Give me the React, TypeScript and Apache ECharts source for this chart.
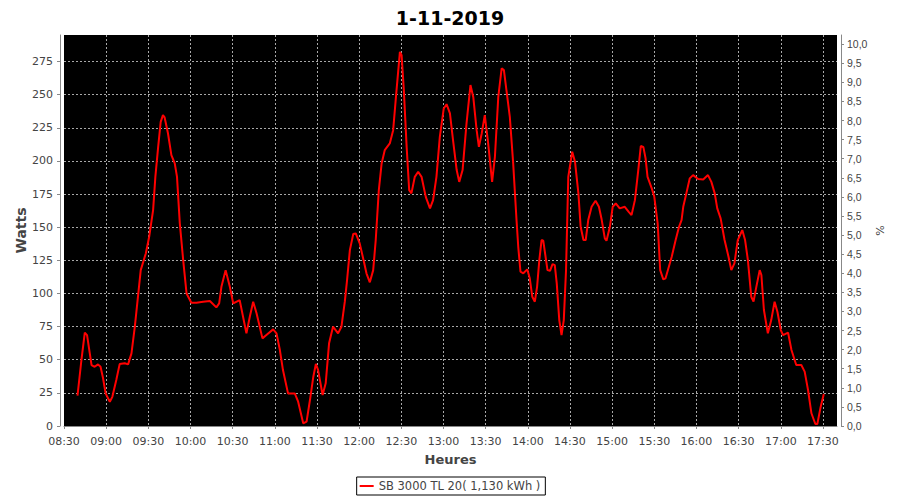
import React, { useEffect, useRef } from "react";
import * as echarts from "echarts";

// Time of day in minutes since midnight, and power in watts
const minutes: number[] = [
  519.6, 522.4, 524.8, 526.4, 529.6, 531.8, 534.2, 536, 537.8, 539.6,
  542.6, 544.4, 547.2, 549.6, 553.2, 555.6, 558, 560.4, 564.6, 568.2,
  570.6, 573.4, 575, 577, 578.8, 580.4, 581.6, 584, 586.4, 588.8,
  590.4, 592.4, 594.8, 597.2, 600.6, 604.2, 609, 613.8, 618.4, 620.4,
  622, 625, 628, 630.4, 635, 637.4, 639.8, 642.2, 644.6, 647,
  651.2, 654, 658.8, 661.2, 663.6, 665.8, 669.4, 674.2, 676.6, 680.2,
  682.6, 685, 687.4, 689.2, 690.8, 694, 696.2, 698.6, 701.4, 705,
  707.4, 709.8, 711.4, 713.4, 715.8, 717.6, 720.4, 723.4, 725.2, 727.6,
  730, 731.8, 734, 736, 738.2, 741.8, 744.2, 746.6, 749, 750.2,
  751.8, 753.8, 755.6, 757.2, 759.6, 762, 764.4, 767.4, 770.4, 772.6,
  775, 777.4, 780.2, 782.2, 784.6, 786.8, 789.4, 791.2, 793.6, 796.4,
  799.2, 801.2, 803.6, 805.2, 807.2, 809.4, 811.8, 814.6, 816.6, 819,
  821.4, 823, 824.8, 827.2, 829.6, 832, 833.2, 834.8, 836.8, 839.6,
  841.4, 843.2, 845, 846.6, 848.2, 849.8, 851, 854, 855.8, 857.6,
  859.2, 860.6, 862.4, 864, 865.6, 867.2, 868.8, 871.6, 873.6, 876,
  877.6, 879.6, 881.2, 883, 885.4, 888.2, 890.6, 892.4, 894.8, 896,
  898.4, 900.4, 902.6, 905.4, 909, 911.8, 913.8, 916.2, 918.6, 920.4,
  922.2, 923.8, 925.2, 928.2, 930, 932.4, 934.2, 936.4, 938, 940,
  942.4, 945.2, 947.6, 949.4, 950.6, 952.8, 955.2, 957.6, 961.2, 964.8,
  968.2, 970.6, 973, 974.8, 977.2, 980, 982.8, 984.8, 987, 989.4,
  992.6, 994.6, 996.6, 999, 1000.6, 1002.6, 1005, 1006.2, 1008, 1010.8,
  1013.2, 1015.6, 1017.6, 1020, 1021.6, 1025.2, 1027.6, 1031, 1034.6, 1037,
  1039.4, 1041.8, 1044.6, 1046, 1048.4, 1050.6,
];

const watts: number[] = [
  22.9, 49.8, 70.4, 68.6, 46, 44.7, 46.5, 44.7, 36, 24.6,
  18.3, 22, 34.7, 46.7, 47.3, 46.5, 54.8, 74.9, 117.6, 130.2,
  142.8, 162.9, 188, 210.6, 229.5, 234.5, 232.8, 220.7, 204.4, 198.1,
  188, 152.9, 125.2, 100, 93, 93, 93.8, 94.3, 89.5, 92.5,
  105, 117.6, 105, 92.5, 95, 82.4, 69.9, 82.4, 93.8, 85,
  66.1, 68.6, 72.9, 69.9, 57.3, 42.2, 24.6, 24.6, 18.3, 2,
  3.3, 19.6, 37.2, 46.8, 42.2, 23.4, 32.2, 62.4, 74.9, 69.9,
  74.9, 93.8, 110, 132.7, 144.8, 145.3, 137.8, 123.9, 115.2, 108.4,
  117.6, 140.3, 178, 198.1, 208.1, 213.2, 223.2, 253.4, 282.3, 279.8,
  253.4, 210.6, 178, 175.5, 188, 191.8, 188, 172.9, 164.2, 170.4,
  188, 218.2, 239.6, 242.8, 235.8, 215.7, 193.1, 184.2, 193.1, 228.3,
  257.2, 248.3, 223.2, 210.6, 220.7, 234.5, 213.2, 184.2, 203.1, 248.3,
  269.8, 268.5, 253.4, 233.3, 198.1, 155, 135.2, 116.4, 115.2, 118.2,
  111.4, 97.5, 93.8, 105, 125.2, 140.3, 139.8, 117.6, 117.1, 122.2,
  121.4, 107.6, 79.9, 68.6, 79.9, 117.6, 188, 206.9, 199.3, 175.5,
  150.3, 140.3, 140.3, 155.4, 165.4, 169.9, 165.4, 156.6, 141.6, 139.8,
  150.3, 165.4, 167.9, 164.2, 165.4, 161.6, 159.1, 170.4, 193.1, 211.2,
  210.6, 201.9, 188, 179.3, 172.9, 152.9, 117.6, 110.6, 111.4, 118.9,
  127.7, 140.3, 150.3, 155.4, 165.4, 175.5, 186.8, 189.3, 186.3, 186,
  189.3, 184.2, 175.5, 164.2, 156.6, 140.3, 127.7, 117.6, 122.7, 140.3,
  147.8, 140.3, 125.2, 97.5, 93.8, 105, 117.6, 113.9, 87.5, 69.9,
  79.9, 93.8, 86.2, 72.4, 68.6, 70.4, 57.3, 46, 46, 41,
  27.1, 9.6, 1.5, 1.5, 14.6, 24.1,
];

const titleText = "1-11-2019";
const seriesName = "SB 3000 TL 20( 1,130 kWh )";
const xAxisName = "Heures";
const leftAxisName = "Watts";
const rightAxisName = "%";

const fmtTime = (v: number) => {
  const h = Math.floor(v / 60);
  const m = Math.round(v - h * 60);
  return String(h).padStart(2, "0") + ":" + String(m).padStart(2, "0");
};

export default function App() {
  const ref = useRef<HTMLDivElement>(null);
  useEffect(() => {
    if (!ref.current) return;
    const chart = echarts.init(ref.current, null, { renderer: "svg" });
    const labelColor = "#444";
    const axisColor = "#888";
    const dashed = { color: "#a8a8a8", type: [2, 2], width: 1 };
    chart.setOption({
      animation: false,
      backgroundColor: "#ffffff",
      title: {
        text: titleText,
        left: "center",
        top: 3,
        textStyle: { fontFamily: "DejaVu Sans", fontWeight: "bold", fontSize: 19, color: "#000" },
      },
      legend: {
        data: [{ name: seriesName, icon: "rect" }],
        left: "center",
        top: 477,
        borderColor: "#000",
        borderWidth: 1,
        borderRadius: 0,
        padding: [3, 5, 3, 3],
        itemWidth: 14,
        itemHeight: 2,
        textStyle: { fontFamily: "DejaVu Sans", fontSize: 11.5, color: labelColor },
      },
      grid: { left: 64, right: 63, top: 35, bottom: 74, show: true, backgroundColor: "#000", borderWidth: 0 },
      xAxis: {
        type: "value",
        min: 510,
        max: 1060,
        interval: 30,
        offset: 4,
        name: xAxisName,
        nameLocation: "middle",
        nameGap: 23,
        nameMoveOverlap: false,
        nameTextStyle: { fontFamily: "DejaVu Sans", fontWeight: "bold", fontSize: 13, color: labelColor },
        axisLine: { show: true, lineStyle: { color: axisColor, width: 1 } },
        axisTick: { show: true, length: 3, lineStyle: { color: axisColor } },
        axisLabel: {
          margin: 6,
          showMaxLabel: false,
          fontFamily: "DejaVu Sans",
          fontSize: 11,
          color: labelColor,
          formatter: (v: number) => (v % 30 === 0 ? fmtTime(v) : ""),
        },
        splitLine: { show: true, showMinLine: false, showMaxLine: false, lineStyle: dashed },
      },
      yAxis: [
        {
          type: "value",
          min: 0,
          max: 295,
          interval: 25,
          offset: 4,
          position: "left",
          name: leftAxisName,
          nameLocation: "middle",
          nameGap: 32,
          nameMoveOverlap: false,
          nameTextStyle: { fontFamily: "DejaVu Sans", fontWeight: "bold", fontSize: 14, color: labelColor },
          axisLine: { show: true, lineStyle: { color: axisColor, width: 1 } },
          axisTick: { show: true, length: 3, lineStyle: { color: axisColor } },
          axisLabel: {
            margin: 7,
            showMaxLabel: false,
            fontFamily: "DejaVu Sans",
            fontSize: 11,
            color: labelColor,
            formatter: (v: number) => (v % 25 === 0 ? String(v) : ""),
          },
          splitLine: { show: true, showMaxLine: false, lineStyle: dashed },
        },
        {
          type: "value",
          min: 0,
          max: 10.24,
          interval: 0.5,
          offset: 4,
          position: "right",
          name: rightAxisName,
          nameLocation: "middle",
          nameGap: 34,
          nameMoveOverlap: false,
          nameTextStyle: { fontFamily: "DejaVu Sans", fontSize: 11, color: labelColor },
          axisLine: { show: true, lineStyle: { color: axisColor, width: 1 } },
          axisTick: { show: true, length: 3, lineStyle: { color: axisColor } },
          axisLabel: {
            margin: 6,
            showMaxLabel: false,
            fontFamily: "Liberation Sans",
            fontSize: 10.5,
            color: labelColor,
            formatter: (v: number) => (v <= 10 ? v.toFixed(1).replace(".", ",") : ""),
          },
          splitLine: { show: false },
        },
      ],
      series: [
        {
          name: seriesName,
          type: "line",
          yAxisIndex: 0,
          data: minutes.map((m, i) => [m, watts[i]]),
          showSymbol: false,
          symbol: "none",
          lineStyle: { color: "#ff0000", width: 2 },
          itemStyle: { color: "#ff0000" },
        },
      ],
    });
    return () => chart.dispose();
  }, []);
  return <div ref={ref} style={{ width: 900, height: 500, position: "absolute", left: 0, top: 0 }} />;
}
